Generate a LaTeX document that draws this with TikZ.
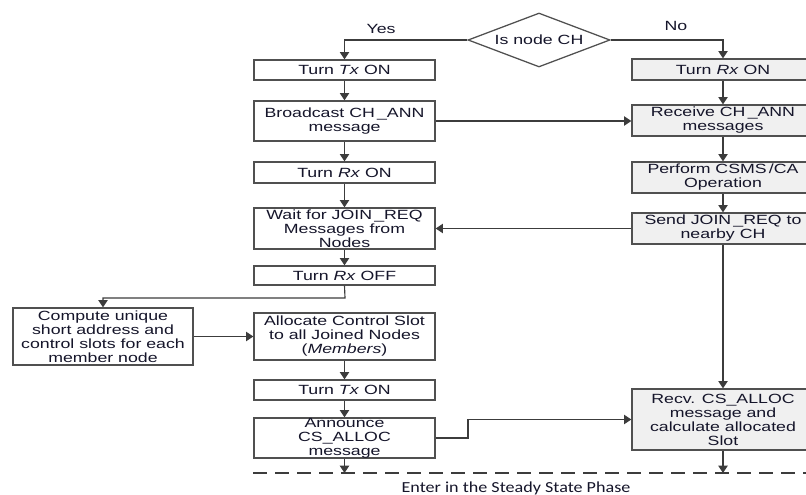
\documentclass[tikz,border=0pt]{standalone}
\usepackage{fontspec}
\setmainfont[FakeStretch=1.33]{Liberation Sans}
\newfontfamily\steadyfont[FakeStretch=1.18]{Carlito}
\usetikzlibrary{arrows.meta,shapes.geometric}
\definecolor{boxc}{HTML}{505050}
\definecolor{linec}{HTML}{3C3C3C}
\definecolor{gfill}{HTML}{F0F0F0}
\definecolor{txtc}{HTML}{15152A}
\newcommand\bx[7]{\node[#1, minimum width={(#5-#3)*0.75pt}, minimum height={(#6-#4)*0.75pt}] (#2) at ({(#3+#5)/2},{(#4+#6)/2}) {#7};}
\begin{document}
\begin{tikzpicture}[x=0.75pt,y=-0.75pt,
  box/.style={draw=boxc, line width=0.95pt, fill=white, inner sep=0pt, align=center,
    font=\fontsize{10}{10.5}\selectfont, text=txtc},
  gbox/.style={box, fill=gfill},
  lbl/.style={font=\fontsize{10}{10.5}\selectfont, text=txtc},
  arr/.style={draw=linec, line width=0.85pt, -{Triangle[width=7pt,length=5.5pt]}},
  dashline/.style={draw=linec, line width=1.8pt, dash pattern=on 10.5pt off 6pt}]
\useasboundingbox (0,0) rectangle (806,495);
\node[diamond, draw=boxc, line width=0.95pt, fill=white, inner sep=0pt, aspect=2.63,
  minimum width=106.5pt, minimum height=40.5pt, font=\fontsize{10}{10.5}\selectfont, text=txtc] (d) at (539,40) {Is node CH};
\node[lbl] (yes) at (381,29) {Yes};
\node[lbl] (no) at (676,26) {No};
\bx{box}{t1}{254}{60}{435}{80}{Turn \textit{Tx} ON}
\bx{box}{bc}{254}{101}{435}{141}{Broadcast CH\,\_ANN\\message}
\bx{box}{rx}{254}{162}{435}{183}{Turn \textit{Rx} ON}
\bx{box}{wt}{254}{208}{435}{249}{Wait for JOIN\,\_REQ\\Messages from\\Nodes}
\bx{box}{ro}{254}{266}{435}{285}{Turn \textit{Rx} OFF}
\bx{box}{cp}{13}{308}{193}{365}{Compute unique\\short address and\\control slots for each\\member node}
\bx{box}{al}{254}{313}{435}{360}{Allocate Control Slot\\to all Joined Nodes\\(\textit{Members})}
\bx{box}{t2}{254}{380}{435}{400}{Turn \textit{Tx} ON}
\bx{box}{an}{254}{418}{435}{458}{Announce\\CS\_ALLOC\\message}
\bx{gbox}{r1}{632}{59}{814}{80}{Turn \textit{Rx} ON}
\bx{gbox}{rc}{632}{105}{814}{136}{Receive CH\,\_ANN\\messages}
\bx{gbox}{pf}{632}{162}{814}{193}{Perform CSMS\,/CA\\Operation}
\bx{gbox}{sj}{632}{213}{814}{244}{Send JOIN\,\_REQ to\\nearby CH}
\bx{gbox}{rv}{632}{389}{814}{450}{Recv. CS\_ALLOC\\message and\\calculate allocated\\Slot}
\coordinate (k1) at (345,298);
\coordinate (j1) at (468,0);
\coordinate (dl) at (253,473);
\coordinate (dr) at (810,473);
\draw[arr] (d.west) -| (t1.north);
\draw[arr] (d.east) -| (r1.north);
\draw[arr] (t1) -- (bc);
\draw[arr] (bc) -- (rx);
\draw[arr] (rx) -- (wt);
\draw[arr] (wt) -- (ro);
\draw[arr] (ro.south) -- (k1) -| (cp.north);
\draw[arr] (cp) -- (al);
\draw[arr] (al) -- (t2);
\draw[arr] (t2) -- (an);
\draw[arr] (an.east) -- (an.east -| j1) -- (j1 |- rv.west) -- (rv.west);
\draw[arr] (bc.east) -- (bc.east -| rc.west);
\draw[arr] (r1) -- (rc);
\draw[arr] (rc) -- (pf);
\draw[arr] (pf) -- (sj);
\draw[arr] (sj.west) -- (sj.west -| wt.east);
\draw[arr] (sj) -- (rv);
\draw[dashline] (dl) -- (dr);
\draw[arr] (an) -- (an.south |- dl);
\draw[arr] (rv) -- (rv.south |- dl);
\node[font=\steadyfont\fontsize{11.5}{13}\selectfont, text=txtc] (st) at (516,488) {Enter in the Steady State Phase};
\end{tikzpicture}
\end{document}
